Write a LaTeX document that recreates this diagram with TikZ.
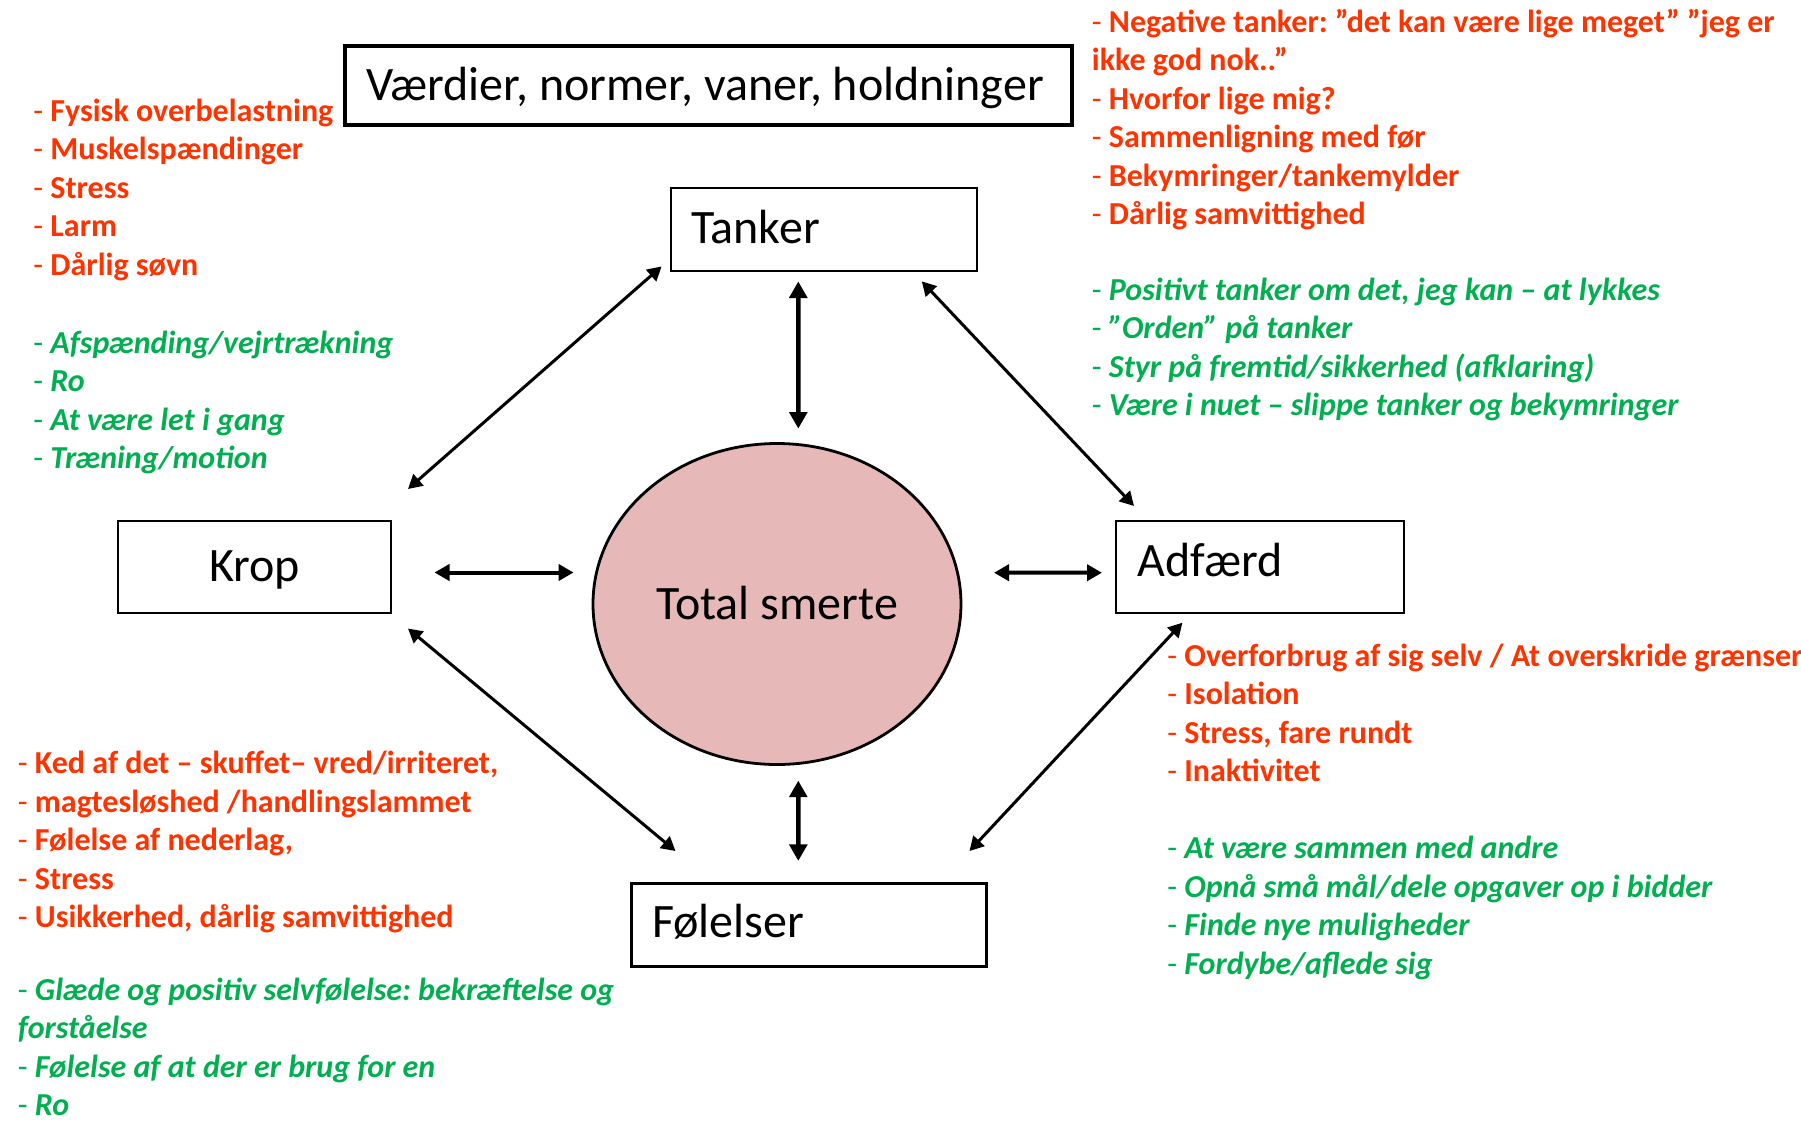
\documentclass[tikz,border=0pt]{standalone}
\usepackage{fontspec}
\setmainfont{Carlito}
\usetikzlibrary{arrows.meta,calc,shapes.geometric}

\definecolor{negred}{HTML}{FF3300}
\definecolor{posgreen}{HTML}{00B050}
\definecolor{painfill}{HTML}{E6B9B8}

% leading dash of each list line: upright, regular weight
\newcommand\plaindash{{\mdseries\upshape -}\ }
\newcommand\dashitem{\strut\plaindash}

\tikzset{
  box/.style={draw, rectangle, line width=#1, inner ysep=0pt,
    font=\fontsize{24pt}{28pt}\selectfont},
  box/.default=1pt,
  listtext/.style={anchor=north west, inner sep=0pt, align=flush left},
  badlist/.style={listtext, text=negred,
    font=\fontsize{16pt}{19.25pt}\selectfont\bfseries},
  goodlist/.style={listtext, text=posgreen,
    font=\fontsize{16pt}{19.25pt}\selectfont\bfseries\itshape},
  arrdiag/.style={line width=1.5pt,
    {Triangle[length=7pt,width=7.5pt]}-{Triangle[length=7pt,width=7.5pt]}},
  arrhoriz/.style={line width=2pt,
    {Triangle[length=7.5pt,width=8pt]}-{Triangle[length=7.5pt,width=8pt]}},
  arrvert/.style={line width=2.2pt,
    {Triangle[length=8.3pt,width=8.8pt]}-{Triangle[length=8.3pt,width=8.8pt]}},
}

\begin{document}
\frenchspacing
\begin{tikzpicture}[x=0.5pt, y=-0.5pt]
  \useasboundingbox (0,0) rectangle (1801,1121);
  \fill[white] (0,0) rectangle (1801,1121);
  \clip (0,0) rectangle (1801,1121);

  % boxes
  \node[box=1.7pt, align=flush left, text width=342.5pt, inner xsep=10.5pt,
        text height=27pt, text depth=12.5pt] (values) at (708.5,85.5)
        {\mbox{Værdier, normer, vaner, holdninger}};
  \node[box=1.4pt, align=flush left, text width=133pt, inner xsep=10pt,
        text height=27.5pt, text depth=14pt] (tanker) at (824,229.5) {Tanker};
  \node[box=1pt, align=center, text width=136.5pt, inner xsep=0pt,
        text height=30pt, text depth=16pt] (krop) at (254.5,567) {Krop};
  \node[box=1pt, align=flush left, text width=122.5pt, inner xsep=10.75pt,
        text height=27.5pt, text depth=18.5pt] (adfaerd) at (1260,567) {Adfærd};
  \node[box=1.5pt, align=flush left, text width=156.5pt, inner xsep=10.5pt,
        text height=27.3pt, text depth=14.2pt] (folelser) at (808.5,924.5) {Følelser};

  % centre
  \node[draw, ellipse, line width=1.4pt, fill=painfill, inner sep=0pt,
        minimum width=184pt, minimum height=160.5pt,
        text height=20pt, text depth=5pt,
        font=\fontsize{24pt}{28pt}\selectfont] (total) at (777,604) {Total smerte};

  % connectors
  \draw[arrdiag]  ($(krop.north east)+(16,-31)$) -- ($(tanker.south west)+(-8,-6)$);
  \draw[arrvert]  ($(tanker.south)+(-25.7,9)$) -- ($(total.north)+(21.3,-13.5)$);
  \draw[arrdiag]  ($(tanker.south east)+(-56.6,9)$) -- ($(adfaerd.north west)+(19,-14)$);
  \draw[arrhoriz] ($(krop.east)+(42.5,5.5)$) -- ($(total.west)+(-18,-31.5)$);
  \draw[arrhoriz] ($(total.east)+(31.6,-31.3)$) -- ($(adfaerd.west)+(-13,5.7)$);
  \draw[arrdiag]  ($(krop.south east)+(16,14.5)$) -- ($(folelser.north west)+(46,-30.5)$);
  \draw[arrvert]  ($(total.south)+(21.3,14.7)$) -- ($(folelser.north)+(-10.2,-20.6)$);
  \draw[arrdiag]  ($(adfaerd.south west)+(67.4,8.7)$) -- ($(folelser.north east)+(-18,-30.5)$);

  % body
  \node[badlist] (kropneg) at (33,94) {%
    \dashitem Fysisk overbelastning\\
    \dashitem Muskelspændinger\\
    \dashitem Stress\\
    \dashitem Larm\\
    \dashitem Dårlig søvn};
  \node[goodlist] (kroppos) at (33,325.7) {%
    \dashitem Afspænding/vejrtrækning\\
    \dashitem Ro\\
    \dashitem At være let i gang\\
    \dashitem Træning/motion};

  % thoughts
  \node[badlist] (tankerneg) at (1091.5,4.7) {%
    \dashitem Negative tanker: ”det kan være lige meget” ”jeg er\\
    \strut ikke god nok..”\\
    \dashitem Hvorfor lige mig?\\
    \dashitem Sammenligning med før\\
    \dashitem Bekymringer/tankemylder\\
    \dashitem Dårlig samvittighed};
  \node[goodlist] (tankerpos) at (1091.5,273) {%
    \dashitem Positivt tanker om det, jeg kan – at lykkes\\
    \dashitem ”Orden” på tanker\\
    \dashitem Styr på fremtid/sikkerhed (afklaring)\\
    \dashitem Være i nuet – slippe tanker og bekymringer};

  % behaviour
  \node[badlist] (adfneg) at (1167,638.7) {%
    \dashitem Overforbrug af sig selv / At overskride grænser\\
    \dashitem Isolation\\
    \dashitem Stress, fare rundt\\
    \dashitem Inaktivitet};
  \node[goodlist] (adfpos) at (1167,831.3) {%
    \dashitem At være sammen med andre\\
    \dashitem Opnå små mål/dele opgaver op i bidder\\
    \dashitem Finde nye muligheder\\
    \dashitem Fordybe/aflede sig};

  % feelings
  \node[badlist] (folneg) at (17.5,746.3) {%
    \dashitem Ked af det – skuffet– vred/irriteret,\\
    \dashitem magtesløshed /handlingslammet\\
    \dashitem Følelse af nederlag,\\
    \dashitem Stress\\
    \dashitem Usikkerhed, dårlig samvittighed};
  \node[goodlist] (folpos) at (17.5,973) {%
    \dashitem Glæde og positiv selvfølelse: bekræftelse og\\
    \strut forståelse\\
    \dashitem Følelse af at der er brug for en\\
    \plaindash Ro};
\end{tikzpicture}
\end{document}
